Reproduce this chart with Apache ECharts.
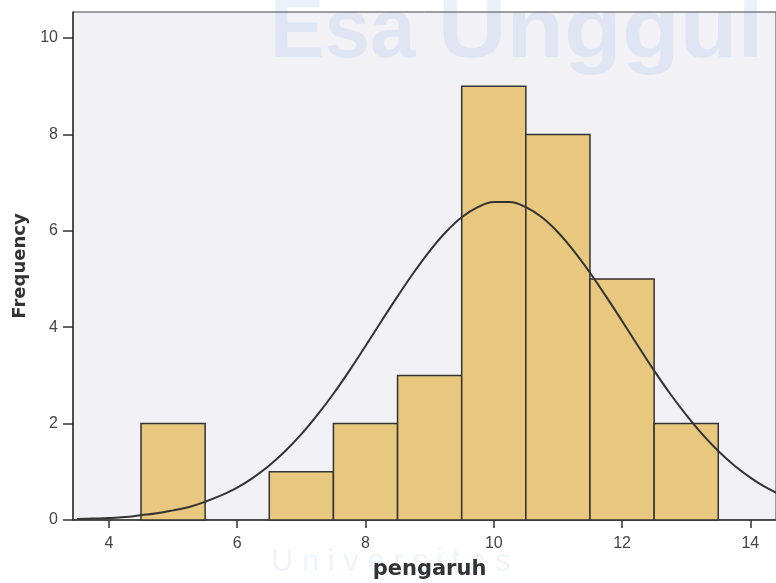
<!DOCTYPE html>
<html>
<head>
<meta charset="utf-8">
<script src="https://cdn.jsdelivr.net/npm/echarts@6/dist/echarts.min.js"></script>
<style>
html,body{margin:0;padding:0;background:#fff;}
#chart{width:776px;height:583px;}
</style>
</head>
<body>
<div id="chart"></div>
<script>
// Histogram bins (centres) and frequencies
var binCenters = [5, 7, 8, 9, 10, 11, 12, 13];
var frequencies = [2, 1, 2, 3, 9, 8, 5, 2];
// Normal curve
var curveX = [3.5, 3.75, 4, 4.25, 4.5, 4.75, 5, 5.25, 5.5, 5.75, 6, 6.25, 6.5, 6.75, 7, 7.25, 7.5, 7.75, 8, 8.25, 8.5, 8.75, 9, 9.25, 9.5, 9.75, 10, 10.25, 10.5, 10.75, 11, 11.25, 11.5, 11.75, 12, 12.25, 12.5, 12.75, 13, 13.25, 13.5, 13.75, 14, 14.25, 14.5];
var curveY = [0.02, 0.03, 0.04, 0.06, 0.10, 0.14, 0.20, 0.27, 0.38, 0.51, 0.67, 0.88, 1.13, 1.43, 1.78, 2.18, 2.62, 3.10, 3.61, 4.13, 4.64, 5.13, 5.58, 5.97, 6.28, 6.49, 6.60, 6.60, 6.49, 6.28, 5.97, 5.58, 5.13, 4.64, 4.13, 3.61, 3.10, 2.62, 2.18, 1.78, 1.43, 1.13, 0.88, 0.67, 0.51];
var xTicks = [4, 6, 8, 10, 12, 14];
var yTicks = [0, 2, 4, 6, 8, 10];

var chart = echarts.init(document.getElementById('chart'));
var barData = binCenters.map(function (c, i) { return [c, frequencies[i]]; });
var lineData = curveX.map(function (x, i) { return [x, curveY[i]]; });

chart.setOption({
  animation: false,
  backgroundColor: '#ffffff',
  graphic: [
    { type: 'text', x: 270, y: -10, scaleX: 0.95, z: 0,
      style: { text: 'Esa', fill: 'rgba(70,130,220,0.11)', font: 'bold 86px "Liberation Sans", Arial, sans-serif' } },
    { type: 'text', x: 438, y: -10, scaleX: 1.1, z: 0,
      style: { text: 'Unggul', fill: 'rgba(70,130,220,0.11)', font: 'bold 86px "Liberation Sans", Arial, sans-serif' } },
    { type: 'text', x: 271, y: 547, z: 0,
      style: { text: 'U n i v e r s i t a s', fill: 'rgba(70,130,220,0.09)', font: '31px "Liberation Sans", Arial, sans-serif' } }
  ],
  grid: {
    left: 73, top: 12, right: 0, bottom: 63,
    outerBoundsMode: 'none', containLabel: false,
    show: true, backgroundColor: '#f2f2f6', borderColor: '#444', borderWidth: 1
  },
  xAxis: {
    type: 'value', min: 3.44, max: 14.4,
    name: 'pengaruh', nameLocation: 'middle', nameGap: 39,
    nameTextStyle: { fontSize: 21, fontWeight: 'bold', color: '#333', fontFamily: '"DejaVu Sans", sans-serif', padding: [0, 0, 0, 10] },
    axisLine: { show: true, onZero: false, lineStyle: { color: '#333', width: 1.5 } },
    axisTick: { show: true, length: 8, customValues: xTicks, lineStyle: { color: '#333', width: 1.5 } },
    axisLabel: { customValues: xTicks, color: '#444', fontSize: 16, margin: 16, fontFamily: '"Liberation Sans", Arial, sans-serif' },
    splitLine: { show: false }
  },
  yAxis: {
    type: 'value', min: 0, max: 10.54,
    name: 'Frequency', nameLocation: 'middle', nameGap: 44, nameRotate: 90,
    nameTextStyle: { fontSize: 18, fontWeight: 'bold', color: '#333', fontFamily: '"DejaVu Sans", sans-serif' },
    axisLine: { show: true, lineStyle: { color: '#333', width: 1.5 } },
    axisTick: { show: true, length: 10, customValues: yTicks, lineStyle: { color: '#333', width: 1.5 } },
    axisLabel: { customValues: yTicks, color: '#444', fontSize: 16, margin: 15, fontFamily: '"Liberation Sans", Arial, sans-serif' },
    splitLine: { show: false }
  },
  series: [
    {
      type: 'custom',
      data: barData,
      encode: { x: 0, y: 1 },
      renderItem: function (params, api) {
        var x = api.value(0), y = api.value(1);
        var p0 = api.coord([x - 0.5, y]);
        var p1 = api.coord([x + 0.5, 0]);
        return {
          type: 'rect',
          shape: { x: p0[0], y: p0[1], width: p1[0] - p0[0], height: p1[1] - p0[1] },
          style: { fill: '#e8c87e', stroke: '#333', lineWidth: 1.5 }
        };
      },
      z: 2
    },
    {
      type: 'line',
      data: lineData,
      smooth: 0.4,
      showSymbol: false,
      lineStyle: { color: '#333', width: 2 },
      clip: true,
      z: 3
    }
  ]
});
</script>
</body>
</html>
